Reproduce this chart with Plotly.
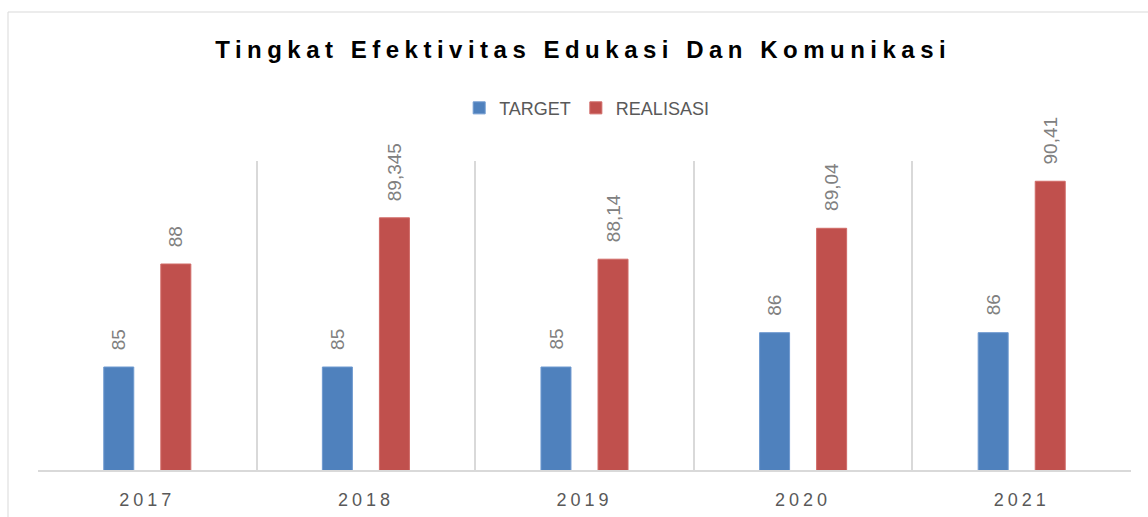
import plotly.graph_objects as go

years = ["2017", "2018", "2019", "2020", "2021"]
target = [85, 85, 85, 86, 86]
realisasi = [88, 89.345, 88.14, 89.04, 90.41]
target_labels = ["85", "85", "85", "86", "86"]
realisasi_labels = ["88", "89,345", "88,14", "89,04", "90,41"]

BLUE = "#4F81BD"
RED = "#C0504D"
GRID = "#D9D9D9"
FONT = "Liberation Sans, Arial, sans-serif"

fig = go.Figure()
fig.add_trace(go.Bar(name="TARGET", x=years, y=target, marker=dict(color=BLUE, line=dict(color="#6F9AD0", width=1)),
                     hoverinfo="y"))
fig.add_trace(go.Bar(name="REALISASI", x=years, y=realisasi, marker=dict(color=RED, line=dict(color="#D06A67", width=1)),
                     hoverinfo="y"))

annotations = []
for i, (v, t) in enumerate(zip(target, target_labels)):
    annotations.append(dict(x=i, y=v, xref="x", yref="y", text=t, showarrow=False, textangle=-90,
                            xshift=-28.5, yshift=15, yanchor="bottom", xanchor="center",
                            font=dict(family=FONT, size=19, color="#808080")))
for i, (v, t) in enumerate(zip(realisasi, realisasi_labels)):
    annotations.append(dict(x=i, y=v, xref="x", yref="y", text=t, showarrow=False, textangle=-90,
                            xshift=28.5, yshift=15, yanchor="bottom", xanchor="center",
                            font=dict(family=FONT, size=19, color="#808080")))

fig.update_layout(
    width=1148, height=517,
    margin=dict(l=38, r=17, t=161, b=47, autoexpand=False),
    paper_bgcolor="white", plot_bgcolor="white",
    barmode="group", bargap=0.478, bargroupgap=0.474,
    title=dict(text="<b>Tingkat Efektivitas Edukasi Dan Komunikasi</b>",
               x=0.508, xanchor="center", y=1 - 50 / 517, yanchor="middle", yref="container",
               font=dict(family=FONT, size=24, color="#000000")),
    legend=dict(orientation="h", x=0.502, xanchor="center", y=1.171, yanchor="middle",
                font=dict(family=FONT, size=18, color="#595959"), bgcolor="rgba(0,0,0,0)",
                itemwidth=30, traceorder="normal"),
    xaxis=dict(type="category", range=[-0.5, len(years) - 0.5], tickson="boundaries", showgrid=True,
               gridcolor=GRID, gridwidth=1.5, automargin=False,
               showline=True, linecolor=GRID, linewidth=2, ticks="", ticklabelstandoff=12, tickangle=0,
               tickfont=dict(family=FONT, size=18, color="#595959"), zeroline=False, fixedrange=True),
    yaxis=dict(range=[82, 91], visible=False, showgrid=False, zeroline=False, fixedrange=True,
               automargin=False),
    annotations=annotations,
    shapes=[dict(type="rect", xref="paper", yref="paper",
                 x0=(8 - 38) / 1093, x1=(1170 - 38) / 1093,
                 y0=(470 - 540) / 309, y1=(470 - 12) / 309,
                 line=dict(color=GRID, width=1), fillcolor="rgba(0,0,0,0)", layer="below")],
)

post = """
document.body.style.margin = '0';
document.body.style.overflow = 'hidden';
var gd = document.getElementById('{plot_id}');
function sp() {
  gd.querySelectorAll('.gtitle').forEach(function (e) { e.style.letterSpacing = '5.5px'; });
  gd.querySelectorAll('.xtick text').forEach(function (e) { e.style.letterSpacing = '4px'; });
}
sp();
if (gd.on) { gd.on('plotly_afterplot', sp); }
"""

fig.write_html("out.html", post_script=post, config={"displayModeBar": False})
